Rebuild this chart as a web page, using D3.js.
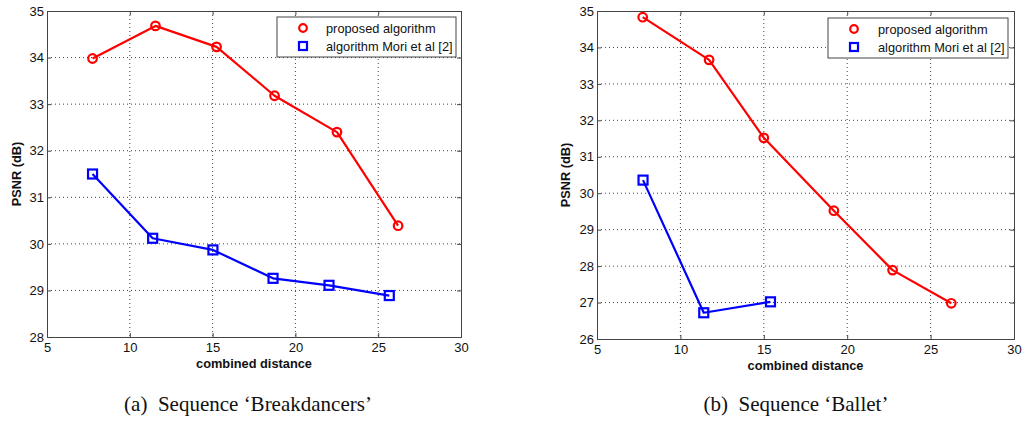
<!DOCTYPE html>
<html><head><meta charset="utf-8">
<script src="https://cdn.jsdelivr.net/npm/d3@7"></script>
<style>body{margin:0;background:#fff}svg{display:block}</style>
</head><body>
<svg id="c" width="1025" height="423"></svg>
<script>
// Data
const xTicks = [5, 10, 15, 20, 25, 30];
const yTicksA = [28, 29, 30, 31, 32, 33, 34, 35];
const yTicksB = [26, 27, 28, 29, 30, 31, 32, 33, 34, 35];
const legendLabels = ["proposed algorithm", "algorithm Mori et al [2]"];
const xLabel = "combined distance";
const yLabel = "PSNR (dB)";
const captions = ["(a)\u00a0\u00a0Sequence \u2018Breakdancers\u2019", "(b)\u00a0\u00a0Sequence \u2018Ballet\u2019"];

const propA_x = [7.75, 11.55, 15.24, 18.74, 22.51, 26.2];
const propA_y = [33.98, 34.68, 34.23, 33.18, 32.40, 30.39];
const moriA_x = [7.75, 11.38, 15.02, 18.65, 22.03, 25.67];
const moriA_y = [31.50, 30.12, 29.87, 29.26, 29.11, 28.89];

const propB_x = [7.74, 11.72, 15.0, 19.2, 22.72, 26.24];
const propB_y = [34.83, 33.66, 31.52, 29.52, 27.89, 26.98];
const moriB_x = [7.76, 11.4, 15.4];
const moriB_y = [30.36, 26.72, 27.02];

const svg = d3.select("#c");
const RED = "#ff0000", BLUE = "#0000ff";
const FONT = "Liberation Sans, Arial, sans-serif";

function panel(opt) {
  const g = svg.append("g");
  const x = d3.scaleLinear().domain([5, 30]).range([opt.x0, opt.x1]);
  const y = d3.scaleLinear().domain(opt.yDomain).range([opt.y1, opt.y0]);
  // grid
  g.append("g").selectAll("line").data(xTicks.slice(1, -1)).join("line")
    .attr("x1", d => x(d)).attr("x2", d => x(d)).attr("y1", opt.y0).attr("y2", opt.y1)
    .attr("stroke", "#444").attr("stroke-width", 1).attr("stroke-dasharray", "1,3");
  g.append("g").selectAll("line").data(opt.yTicks.slice(1, -1)).join("line")
    .attr("y1", d => y(d)).attr("y2", d => y(d)).attr("x1", opt.x0).attr("x2", opt.x1)
    .attr("stroke", "#444").attr("stroke-width", 1).attr("stroke-dasharray", "1,3");
  // axes
  const fmt = d3.format("d");
  const ax = g.append("g").attr("transform", `translate(0,${opt.y1})`)
    .call(d3.axisBottom(x).tickValues(xTicks).tickFormat(fmt).tickSize(-4).tickPadding(8));
  const axT = g.append("g").attr("transform", `translate(0,${opt.y0})`)
    .call(d3.axisTop(x).tickValues(xTicks).tickSize(-4).tickFormat(""));
  const ay = g.append("g").attr("transform", `translate(${opt.x0},0)`)
    .call(d3.axisLeft(y).tickValues(opt.yTicks).tickFormat(fmt).tickSize(-4).tickPadding(3));
  const ayR = g.append("g").attr("transform", `translate(${opt.x1},0)`)
    .call(d3.axisRight(y).tickValues(opt.yTicks).tickSize(-4).tickFormat(""));
  [ax, axT, ay, ayR].forEach(a => {
    a.selectAll(".domain").attr("stroke", "#444").attr("stroke-width", 1);
    a.selectAll(".tick line").attr("stroke", "#444");
    a.selectAll("text").attr("font-family", FONT).attr("font-size", 13).attr("fill", "#111");
  });
  ax.selectAll("text").attr("dy", "0.71em").attr("y", 6);
  // labels
  g.append("text").attr("x", (opt.x0 + opt.x1) / 2).attr("y", opt.y1 + 31)
    .attr("text-anchor", "middle").attr("font-family", FONT).attr("font-weight", "bold")
    .attr("font-size", 12.8).attr("fill", "#111").text(xLabel);
  g.append("text").attr("transform", `translate(${opt.ylx},${(opt.y0 + opt.y1) / 2}) rotate(-90)`)
    .attr("text-anchor", "middle").attr("font-family", FONT).attr("font-weight", "bold")
    .attr("font-size", 12.8).attr("fill", "#111").text(yLabel);
  g.append("text").attr("x", opt.capX).attr("y", 411)
    .attr("text-anchor", "middle").attr("font-family", "Liberation Serif, Times New Roman, serif")
    .attr("font-size", 21).attr("fill", "#111").text(opt.caption);

  const line = d3.line().x(d => x(d[0])).y(d => y(d[1]));
  const series = [
    {pts: d3.zip(opt.px, opt.py), color: RED, m: "circle"},
    {pts: d3.zip(opt.mx, opt.my), color: BLUE, m: "square"}
  ];
  series.forEach(s => {
    g.append("path").datum(s.pts).attr("d", line).attr("fill", "none")
      .attr("stroke", s.color).attr("stroke-width", 2.2).attr("stroke-linejoin", "round");
    if (s.m === "circle") {
      g.append("g").selectAll("circle").data(s.pts).join("circle")
        .attr("cx", d => x(d[0])).attr("cy", d => y(d[1])).attr("r", 4.3)
        .attr("fill", "none").attr("stroke", s.color).attr("stroke-width", 2.2);
    } else {
      g.append("g").selectAll("rect").data(s.pts).join("rect")
        .attr("x", d => x(d[0]) - 4.5).attr("y", d => y(d[1]) - 4.5)
        .attr("width", 9).attr("height", 9)
        .attr("fill", "none").attr("stroke", s.color).attr("stroke-width", 2.2);
    }
  });
  // legend
  const L = opt.legend;
  g.append("rect").attr("x", L.x).attr("y", L.y).attr("width", L.w).attr("height", L.h)
    .attr("fill", "#fff").attr("stroke", "#444").attr("stroke-width", 1);
  legendLabels.forEach((lab, i) => {
    const cy = L.y + 11 + i * 18;
    if (i === 0) {
      g.append("circle").attr("cx", L.mx).attr("cy", cy).attr("r", 3.8)
        .attr("fill", "none").attr("stroke", RED).attr("stroke-width", 2.2);
    } else {
      g.append("rect").attr("x", L.mx - 4).attr("y", cy - 4).attr("width", 8).attr("height", 8)
        .attr("fill", "none").attr("stroke", BLUE).attr("stroke-width", 2.2);
    }
    g.append("text").attr("x", L.tx).attr("y", cy + 4.5).attr("font-family", FONT)
      .attr("font-size", 12.8).attr("fill", "#111").text(lab);
  });
}

panel({x0: 47, x1: 461, y0: 11, y1: 337, yDomain: [28, 35], yTicks: yTicksA,
  px: propA_x, py: propA_y, mx: moriA_x, my: moriA_y, ylx: 21, capX: 248, caption: captions[0],
  legend: {x: 277, y: 17, w: 179, h: 40, mx: 303, tx: 326}});
panel({x0: 597, x1: 1014, y0: 11, y1: 339, yDomain: [26, 35], yTicks: yTicksB,
  px: propB_x, py: propB_y, mx: moriB_x, my: moriB_y, ylx: 570, capX: 796, caption: captions[1],
  legend: {x: 828, y: 18, w: 180, h: 40, mx: 854, tx: 878}});
</script>
</body></html>
